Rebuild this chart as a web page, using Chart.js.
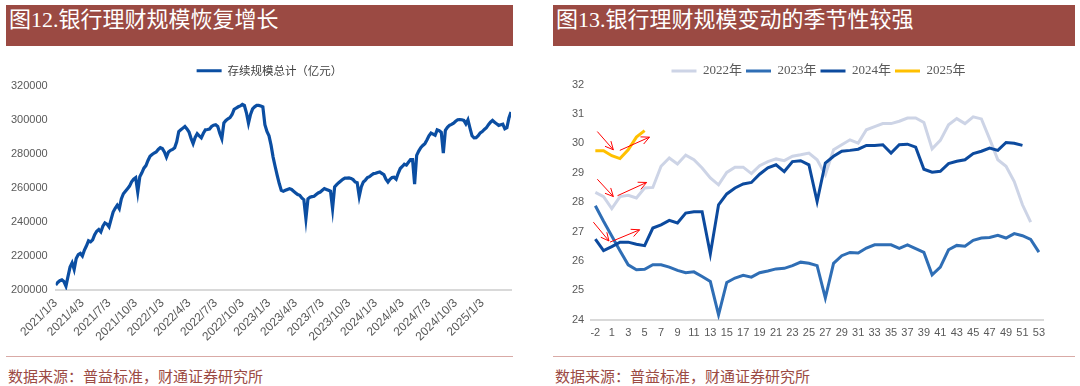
<!DOCTYPE html>
<html>
<head>
<meta charset="utf-8">
<script src="https://cdn.jsdelivr.net/npm/chart.js@4.4.1/dist/chart.umd.min.js"></script>
<style>
    body { margin: 0; background: #fff; width: 1080px; height: 386px; position: relative; overflow: hidden; font-family: "Noto Sans CJK SC", sans-serif; }
    .bar { position: absolute; top: 5px; height: 41px; background: #9B4A43; color: #fff; font-family: "Liberation Serif", "Noto Sans CJK SC", serif; font-size: 22px; line-height: 30px; padding-left: 3px; box-sizing: border-box; }
    .rule { position: absolute; top: 356px; height: 1px; background: #D9AAA6; }
    .src { position: absolute; top: 366px; font-size: 15px; line-height: 20px; color: #9B4A43; }
    canvas { position: absolute; }
</style>
</head>
<body>
<div class="bar" style="left:6px;width:507px">图12.银行理财规模恢复增长</div>
<div class="bar" style="left:553px;width:522px">图13.银行理财规模变动的季节性较强</div>
<canvas id="scaleChart" width="540" height="298" style="left:0;top:52px"></canvas>
<canvas id="seasonChart" width="535" height="298" style="left:545px;top:52px"></canvas>
<div class="rule" style="left:6px;width:507px"></div>
<div class="rule" style="left:553px;width:522px"></div>
<div class="src" style="left:8px">数据来源：普益标准，财通证券研究所</div>
<div class="src" style="left:555px">数据来源：普益标准，财通证券研究所</div>

<script>
// left chart: weekly total (亿元), first week 2021/1/3
const quarterLabels = ["2021/1/3", "2021/4/3", "2021/7/3", "2021/10/3", "2022/1/3", "2022/4/3", "2022/7/3", "2022/10/3",
    "2023/1/3", "2023/4/3", "2023/7/3", "2023/10/3", "2024/1/3", "2024/4/3", "2024/7/3", "2024/10/3", "2025/1/3"];
const weeksPerQuarter = 13;
const scaleTotal = [
    202900, 204500, 205500, 206000, 205000, 202300, 208000, 213500, 216000, 212100,
    218500, 220800, 221500, 220000, 223500, 226000, 228900, 228300, 229500, 232500,
    234500, 235500, 234100, 237500, 239400, 238700, 237100, 241500, 245800, 248000,
    249800, 247800, 253500, 256500, 258000, 259500, 261000, 263500, 265000, 265900,
    257500, 266500, 268800, 271500, 273000, 276000, 278500, 279500, 280400, 281000,
    282500, 283500, 283000, 281000, 278000, 281000, 282000, 282500, 283500, 287000,
    293000, 294000, 295000, 296000, 294500, 292700, 289000, 285900, 289500, 291700,
    290500, 289300, 292000, 294000, 294200, 294500, 296000, 296700, 297000, 296000,
    292000, 288800, 298000, 299500, 300500, 301200, 303000, 306000, 306800, 307500,
    308000, 308900, 308300, 304000, 297900, 303000, 306300, 307500, 308300, 308300,
    308000, 307500, 297000, 293000, 290500, 285000, 278000, 272500, 267300, 262500,
    258500, 258000, 258500, 259000, 259500, 259000, 258000, 257000, 256000, 255600,
    254000, 253000, 241900, 253500, 254500, 254800, 255000, 256000, 257000, 257500,
    258500, 259500, 259000, 258500, 258000, 247800, 260500, 261800, 263000, 264000,
    265000, 265700, 265700, 265800, 265500, 264800, 263400, 263000, 255000, 260500,
    263400, 264500, 266000, 266500, 267500, 268300, 268500, 269000, 269300, 268500,
    267700, 265000, 263400, 265000, 266000, 266200, 265100, 268500, 271300, 272500,
    273800, 273300, 275000, 276500, 276500, 262100, 279000, 281500, 283500, 284800,
    285900, 288000, 290500, 292100, 291500, 290800, 294000, 293500, 292500, 280400,
    293700, 295500, 296600, 297200, 297900, 299000, 299900, 300000, 299900, 299500,
    297500, 299900, 295000, 290500, 289300, 289400, 290500, 292200, 293000, 294200,
    295200, 297000, 298500, 299500, 298500, 297500, 296600, 297000, 297300, 294600,
    295200, 301000, 304400
];

// right chart: week of year (万亿元)
const weekLabels = ["-2", "-1", "1", "2", "3", "4", "5", "6", "7", "8", "9", "10", "11", "12", "13", "14", "15", "16", "17", "18",
    "19", "20", "21", "22", "23", "24", "25", "26", "27", "28", "29", "30", "31", "32", "33", "34", "35", "36", "37", "38",
    "39", "40", "41", "42", "43", "44", "45", "46", "47", "48", "49", "50", "51", "52", "53"];
const y2022 = [28.33, 28.19, 27.78, 28.19, 28.23, 28.14, 28.48, 28.5, 29.22, 29.5,
    29.3, 29.6, 29.44, 29.16, 28.82, 28.59, 29.01, 29.19, 29.19, 28.97,
    29.24, 29.38, 29.47, 29.41, 29.56, 29.61, 29.67, 29.44, 28.93, 29.78,
    29.95, 30.12, 30.01, 30.46, 30.57, 30.67, 30.67, 30.75, 30.86, 30.86,
    30.71, 29.81, 30.1, 30.63, 30.84, 30.67, 30.9, 30.83, 30.15, 29.44,
    29.22, 28.7, 27.91, 27.32];
const y2023 = [27.88, 27.35, 26.85, 26.35, 25.87, 25.7, 25.72, 25.87, 25.87, 25.79,
    25.68, 25.6, 25.63, 25.47, 25.3, 24.17, 25.27, 25.42, 25.51, 25.45,
    25.6, 25.66, 25.73, 25.75, 25.84, 25.96, 25.92, 25.84, 24.74, 25.92,
    26.18, 26.29, 26.27, 26.44, 26.55, 26.55, 26.55, 26.43, 26.55, 26.42,
    26.29, 25.53, 25.79, 26.38, 26.53, 26.5, 26.7, 26.78, 26.8, 26.87,
    26.78, 26.93, 26.86, 26.73, 26.3];
const y2024 = [26.74, 26.35, 26.49, 26.64, 26.64, 26.57, 26.52, 27.12, 27.23, 27.38,
    27.29, 27.63, 27.67, 27.67, 26.24, 27.91, 28.28, 28.48, 28.62, 28.67,
    28.95, 29.17, 29.27, 29.04, 29.38, 29.41, 29.27, 28.02, 29.33, 29.56,
    29.73, 29.76, 29.8, 29.93, 29.93, 29.95, 29.67, 29.95, 29.97, 29.87,
    29.12, 29.02, 29.05, 29.31, 29.39, 29.44, 29.65, 29.73, 29.84, 29.76,
    30.03, 30.0, 29.93];
const y2025 = [29.75, 29.75, 29.58, 29.48, 29.78, 30.21, 30.43];

// red arrows drawn on the right chart, [week index, value]
const arrowStarts = [[0.24, 30.4], [2.98, 29.76], [0.24, 28.78], [2.7, 28.22], [-0.24, 27.32], [1.78, 26.64]];
const arrowEnds = [[2.19, 29.78], [6.59, 30.21], [2.19, 28.19], [6.24, 28.67], [1.66, 26.68], [5.39, 27.06]];

const tickFont = { family: "Liberation Sans", size: 11 };
const tickColor = "#595959";

// nudges the legend so it sits where the original one does
const legendShift = {
    id: "legendShift",
    afterLayout(chart, args, opts) {
        chart.legend.left += opts.dx;
        chart.legend.right += opts.dx;
        chart.legend.top += opts.dy || 0;
        chart.legend.bottom += opts.dy || 0;
    }
};

new Chart("scaleChart", {
    type: "line",
    data: {
        datasets: [{
            label: "存续规模总计（亿元）",
            data: scaleTotal.map((v, i) => ({ x: i, y: v })),
            borderColor: "#0B4EA2",
            borderWidth: 3.2,
            pointRadius: 0,
            tension: 0
        }]
    },
    options: {
        responsive: false,
        animation: false,
        layout: { padding: { left: 3, right: 29, top: 3, bottom: 0 } },
        plugins: {
            tooltip: { enabled: false },
            legendShift: { dx: 12.5, dy: 1 },
            legend: {
                labels: {
                    usePointStyle: true, pointStyle: "line", pointStyleWidth: 25, boxWidth: 25, padding: 9,
                    color: "#404040", font: { family: "Noto Sans CJK SC", size: 11.5 }
                }
            }
        },
        scales: {
            x: {
                type: "linear",
                min: 0,
                max: scaleTotal.length - 1,
                grid: { display: false, drawTicks: false },
                border: { color: "#D9D9D9", width: 2 },
                afterBuildTicks: function (axis) {
                    axis.ticks = quarterLabels.map((l, k) => ({ value: k * weeksPerQuarter }));
                },
                ticks: {
                    autoSkip: false, maxRotation: 45, minRotation: 45, padding: 6,
                    color: tickColor, font: { family: "Liberation Sans", size: 12 },
                    callback: function (v) { return quarterLabels[Math.round(v / weeksPerQuarter)]; }
                }
            },
            y: {
                min: 200000,
                max: 320000,
                grid: { display: false, drawTicks: false },
                border: { display: false },
                ticks: { stepSize: 20000, padding: 8, color: tickColor, font: tickFont, callback: v => String(v) }
            }
        }
    },
    plugins: [legendShift]
});

const arrowPlugin = {
    id: "arrows",
    afterDatasetsDraw(chart) {
        const ctx = chart.ctx, xs = chart.scales.x, ys = chart.scales.y;
        ctx.save();
        ctx.strokeStyle = "#FF0000";
        ctx.lineWidth = 1;
        for (let i = 0; i < arrowStarts.length; i++) {
            const x0 = xs.getPixelForValue(arrowStarts[i][0]), y0 = ys.getPixelForValue(arrowStarts[i][1]);
            const x1 = xs.getPixelForValue(arrowEnds[i][0]), y1 = ys.getPixelForValue(arrowEnds[i][1]);
            const a = Math.atan2(y1 - y0, x1 - x0);
            ctx.beginPath();
            ctx.moveTo(x0, y0);
            ctx.lineTo(x1, y1);
            ctx.moveTo(x1 - 9 * Math.cos(a - 0.45), y1 - 9 * Math.sin(a - 0.45));
            ctx.lineTo(x1, y1);
            ctx.lineTo(x1 - 9 * Math.cos(a + 0.45), y1 - 9 * Math.sin(a + 0.45));
            ctx.stroke();
        }
        ctx.restore();
    }
};

function yearLine(label, values, color, order) {
    return { label: label, data: values, borderColor: color, backgroundColor: color, borderWidth: 3, pointRadius: 0, tension: 0, order: order };
}

new Chart("seasonChart", {
    type: "line",
    data: {
        labels: weekLabels,
        datasets: [
            yearLine("2022年", y2022, "#CDD4E6", 3),
            yearLine("2023年", y2023, "#2F6EB5", 2),
            yearLine("2024年", y2024, "#0C4A9E", 1),
            yearLine("2025年", y2025, "#FFC000", 0)
        ]
    },
    options: {
        responsive: false,
        animation: false,
        layout: { padding: { left: 20, right: 37, top: 5.5, bottom: 3 } },
        plugins: {
            tooltip: { enabled: false },
            legendShift: { dx: 14.5, dy: 3 },
            legend: {
                labels: {
                    usePointStyle: true, pointStyle: "line", pointStyleWidth: 25, boxWidth: 25, padding: 4,
                    color: "#595959", font: { family: "Liberation Serif, Noto Sans CJK SC", size: 13 },
                    sort: (a, b) => a.datasetIndex - b.datasetIndex
                }
            }
        },
        scales: {
            x: {
                offset: true,
                grid: { display: false, drawTicks: false },
                border: { color: "#D9D9D9", width: 2 },
                ticks: {
                    autoSkip: false, maxRotation: 0, padding: 7, color: tickColor, font: tickFont,
                    callback: function (v, i) { return i % 2 === 0 ? weekLabels[i] : ""; }
                }
            },
            y: {
                min: 24,
                max: 32,
                grid: { display: false, drawTicks: false },
                border: { display: false },
                ticks: { stepSize: 1, padding: 7, color: tickColor, font: tickFont }
            }
        }
    },
    plugins: [arrowPlugin, legendShift]
});
</script>
</body>
</html>
